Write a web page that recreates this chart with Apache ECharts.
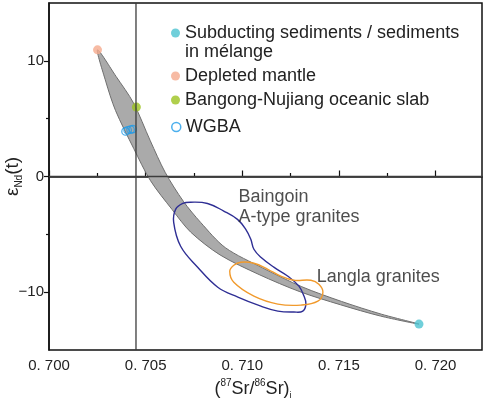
<!DOCTYPE html>
<html>
<head>
<meta charset="utf-8">
<script src="https://cdn.jsdelivr.net/npm/echarts@6/dist/echarts.min.js"></script>
<style>
  html, body { margin: 0; padding: 0; background: #fff; }
  #chart { width: 484px; height: 398px; }
</style>
</head>
<body>
<div id="chart"></div>
<script>
// axis ticks
const xTicks = [0.700, 0.705, 0.710, 0.715, 0.720];
const xMinorTicks = [0.7025, 0.7075, 0.7125, 0.7175];
const yTicks = [-10, 0, 10];
const yMinorTicks = [-5, 5];

// reference lines
const refLineX = [[0.7045, -15], [0.7045, 15]];
const refLineY = [[0.700, 0], [0.7224, 0]];

// end members and samples
const subductingSediments = [[0.71914, -12.76]];
const depletedMantle = [[0.70251, 10.95]];
const bangongSlab = [[0.70452, 6.0]];
const wgba = [[0.70396, 3.9], [0.70407, 4.0], [0.70422, 4.05], [0.70433, 4.1]];

// mixing band (upper edge from DM to sediments, then lower edge back)
const bandUpper = [
  [0.70251, 10.95], [0.70347, 8.65], [0.70437, 6.36], [0.70524, 3.09],
  [0.70601, 0.36], [0.70695, -2.14], [0.70785, -3.98], [0.70912, -6.15],
  [0.71105, -7.90], [0.71308, -9.53], [0.71513, -10.80], [0.71719, -11.90],
  [0.71914, -12.76]
];
const bandLower = [
  [0.71716, -12.07], [0.71508, -11.09], [0.71298, -9.96], [0.71087, -8.48],
  [0.70885, -6.78], [0.70733, -4.81], [0.70637, -2.86], [0.70525, -0.36],
  [0.70438, 2.43], [0.70344, 5.71], [0.70293, 8.25]
];

// fields
const baingoinField = [
  [0.70733, -2.22], [0.70820, -2.33], [0.70904, -2.99], [0.70975, -3.71],
  [0.71018, -4.57], [0.71044, -5.43], [0.71060, -6.29], [0.71096, -6.98],
  [0.71163, -7.84], [0.71236, -8.62], [0.71293, -9.48], [0.71319, -10.34],
  [0.71329, -11.03], [0.71313, -11.64], [0.71267, -11.72], [0.71184, -11.64],
  [0.71096, -11.21], [0.70977, -10.43], [0.70873, -9.57], [0.70769, -7.84],
  [0.70681, -6.03], [0.70645, -3.97], [0.70655, -2.84], [0.70692, -2.33]
];
const langlaField = [
  [0.70992, -7.41], [0.71060, -7.50], [0.71132, -8.02], [0.71199, -8.62],
  [0.71267, -8.97], [0.71355, -8.97], [0.71396, -9.31], [0.71417, -10.0],
  [0.71391, -10.78], [0.71303, -11.12], [0.71184, -11.03], [0.71060, -10.34],
  [0.70956, -9.14], [0.70935, -8.19], [0.70956, -7.67]
];

// annotation anchors
const baingoinLabel = [[0.7098, -2.65]];
const langlaLabel = [[0.71385, -8.65]];

const ssName = 'Subducting sediments / sediments in mélange';
const ssLegendText = '\nSubducting sediments / sediments\nin mélange';
const font = "'Liberation Sans', Arial, sans-serif";

const chart = echarts.init(document.getElementById('chart'));

function polygon(name, pts, style, smooth) {
  return {
    type: 'custom',
    name: name,
    data: pts,
    clip: true,
    silent: true,
    renderItem: function (params, api) {
      if (params.dataIndex !== 0) return null;
      return {
        type: 'polygon',
        shape: { points: pts.map(function (p) { return api.coord(p); }), smooth: smooth },
        style: style
      };
    }
  };
}

function oneLegend(name, top, itemStyle, formatter) {
  return {
    data: [{ name: name, icon: 'circle', itemStyle: itemStyle }],
    left: 171,
    top: top,
    itemWidth: 9,
    itemHeight: 9,
    selectedMode: false,
    padding: 0,
    formatter: formatter,
    textStyle: { fontSize: 18, lineHeight: 19, color: '#222', fontFamily: font }
  };
}

const option = {
  animation: false,
  textStyle: { fontFamily: font },
  grid: {
    left: 49, right: 2, top: 3, bottom: 48,
    outerBoundsMode: 'none', containLabel: false,
    show: true, borderColor: '#111', borderWidth: 1.5
  },
  legend: [
    oneLegend(ssName, 4.5, { color: '#4cc3d1' }, function () { return ssLegendText; }),
    oneLegend('Depleted mantle', 66.5, { color: '#f5aa8d' }),
    oneLegend('Bangong-Nujiang oceanic slab', 90.5, { color: '#9cc31f' }),
    oneLegend('WGBA', 117.5, { color: 'rgba(0,0,0,0)', borderColor: '#1e9be9', borderWidth: 1.5 })
  ],
  xAxis: [
    {
      type: 'value', min: 0.700, max: 0.7224, position: 'bottom',
      axisLine: { lineStyle: { color: '#111', width: 1.5 } },
      axisTick: { inside: true, length: 6, customValues: xTicks, lineStyle: { color: '#111', width: 1.2 } },
      axisLabel: {
        customValues: xTicks, margin: 8, fontSize: 15, color: '#222',
        formatter: function (v) { return v.toFixed(3).replace('.', '. '); }
      },
      splitLine: { show: false },
      name: '{p|(}{s|87}{p|Sr/}{s|86}{p|Sr)}{b|i}',
      nameLocation: 'middle',
      nameGap: 26,
      nameTextStyle: {
        padding: [0, 25, 0, 0],
        rich: {
          p: { fontSize: 18, color: '#222', lineHeight: 22 },
          s: { fontSize: 10, color: '#222', verticalAlign: 'top', lineHeight: 12 },
          b: { fontSize: 9, color: '#222', verticalAlign: 'bottom', lineHeight: 8 }
        }
      }
    },
    {
      type: 'value', min: 0.700, max: 0.7224, position: 'bottom',
      axisLine: { show: false },
      axisTick: { inside: true, length: 3.5, customValues: xMinorTicks, lineStyle: { color: '#111', width: 1.2 } },
      axisLabel: { show: false },
      splitLine: { show: false }
    }
  ],
  yAxis: [
    {
      type: 'value', min: -15, max: 15, position: 'left',
      axisLine: { lineStyle: { color: '#111', width: 1.5 } },
      axisTick: { length: 5, customValues: yTicks, lineStyle: { color: '#111', width: 1.2 } },
      axisLabel: {
        customValues: yTicks, margin: 5, fontSize: 15, color: '#222',
        formatter: function (v) { return v < 0 ? '\u2212' + (-v) : String(v); }
      },
      splitLine: { show: false },
      name: '{e|ε}{s|Nd}{e|(t)}',
      nameLocation: 'middle',
      nameRotate: 90,
      nameGap: 25,
      nameMoveOverlap: false,
      nameTextStyle: {
        rich: {
          e: { fontSize: 19, color: '#222', lineHeight: 22 },
          s: { fontSize: 10, color: '#222', verticalAlign: 'bottom', lineHeight: 8 }
        }
      }
    },
    {
      type: 'value', min: -15, max: 15, position: 'left',
      axisLine: { show: false },
      axisTick: { length: 3, customValues: yMinorTicks, lineStyle: { color: '#111', width: 1.2 } },
      axisLabel: { show: false },
      splitLine: { show: false }
    }
  ],
  series: [
    polygon('mixing band', bandUpper.concat(bandLower), { fill: '#aaaaaa', stroke: '#6e6e6e', lineWidth: 1 }, 0.3),
    {
      type: 'line', name: 'ref x', data: refLineX, symbol: 'none', silent: true,
      lineStyle: { color: '#3c3c3c', width: 1.3 }
    },
    {
      type: 'line', name: 'ref y', data: refLineY, symbol: 'none', silent: true,
      lineStyle: { color: '#3c3c3c', width: 1.3 }
    },
    polygon('Baingoin', baingoinField, { fill: 'none', stroke: '#2e2e94', lineWidth: 1.4 }, 0.4),
    polygon('Langla', langlaField, { fill: 'none', stroke: '#f19a2c', lineWidth: 1.4 }, 0.4),
    {
      type: 'scatter', name: ssName, data: subductingSediments, symbolSize: 9,
      itemStyle: { color: '#4cc3d1' }
    },
    {
      type: 'scatter', name: 'Depleted mantle', data: depletedMantle, symbolSize: 9,
      itemStyle: { color: '#f5aa8d' }
    },
    {
      type: 'scatter', name: 'Bangong-Nujiang oceanic slab', data: bangongSlab, symbolSize: 9,
      itemStyle: { color: '#9cc31f' }
    },
    {
      type: 'scatter', name: 'WGBA', data: wgba, symbolSize: 7.5,
      itemStyle: { color: 'rgba(0,0,0,0)', borderColor: '#1e9be9', borderWidth: 1.2 }
    },
    {
      type: 'scatter', name: 'Baingoin label', data: baingoinLabel, symbolSize: 0, silent: true,
      label: {
        show: true, position: 'right', distance: 0, fontSize: 18, lineHeight: 20, color: '#222',
        formatter: 'Baingoin\nA-type granites'
      }
    },
    {
      type: 'scatter', name: 'Langla label', data: langlaLabel, symbolSize: 0, silent: true,
      label: {
        show: true, position: 'right', distance: 0, fontSize: 18, color: '#222',
        formatter: 'Langla granites'
      }
    }
  ]
};

chart.setOption(option);
</script>
</body>
</html>
